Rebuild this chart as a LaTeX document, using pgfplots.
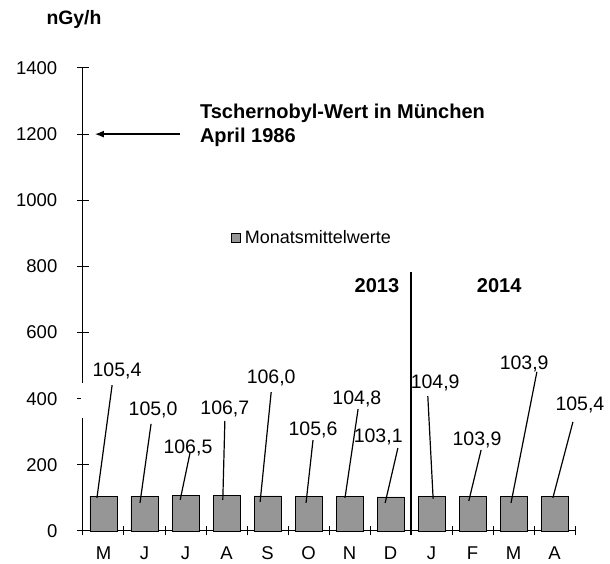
\documentclass[border=0pt]{standalone}
\usepackage{pgfplots}
\pgfplotsset{compat=1.18}
\usepackage{fontspec}
\setmainfont{Liberation Sans}
\usetikzlibrary{arrows.meta}
\definecolor{barcol}{RGB}{150,150,150}
\begin{document}
\fontsize{18}{22}\selectfont
\begin{tikzpicture}
\useasboundingbox (-83pt,-33pt) rectangle (527pt,531pt);
\begin{axis}[
  scale only axis,
  width=492pt, height=463pt,
  at={(0pt,0pt)}, anchor=south west,
  xmin=-0.5, xmax=11.5,
  ymin=0, ymax=1400,
  axis lines=left,
  axis line style={-, line width=1pt, black},
  clip=false,
  /pgf/number format/assume math mode=true,
  /pgf/number format/1000 sep={},
  tick label style={font=\fontsize{18.5}{22}\selectfont},
  ytick={0,200,...,1400},
  yticklabel style={anchor=east, inner sep=0pt, xshift=-20pt},
  ytick align=center,
  major tick length=11pt,
  minor tick length=9pt,
  xtick align=center,
  tick style={line width=1pt, black},
  xtick={0,...,11},
  xticklabels={M,J,J,A,S,O,N,D,J,F,M,A},
  major x tick style={draw=none},
  minor xtick={-0.5,0.5,...,11.5},
  xticklabel style={anchor=base, inner sep=0pt, text height=13pt, text depth=0pt, yshift=-23pt},
  legend style={at={(rel axis cs:0.301,0.633)}, anchor=west, draw=none, fill=none,
    inner sep=0pt, nodes={inner sep=2pt, inner xsep=4pt}},
  legend image code/.code={\draw[fill=barcol, draw=black, line width=0.6pt] (0pt,-4.5pt) rectangle (9pt,4.5pt);},
]
\addplot[ybar, bar width=27pt, fill=barcol, draw=black, line width=0.8pt]
  coordinates {(0,105.4) (1,105.0) (2,106.5) (3,106.7) (4,106.0) (5,105.6)
               (6,104.8) (7,103.1) (8,104.9) (9,103.9) (10,103.9) (11,105.4)};
\addlegendentry{Monatsmittelwerte}

% gap in y axis
\fill[white] ([xshift=-1.5pt]axis cs:-0.5,342) rectangle ([xshift=8pt]axis cs:-0.5,447);

% leader lines
\begin{scope}[line width=1.2pt]
\draw (axis cs:0.21,441) -- (axis cs:-0.16,100);
\draw (axis cs:1.16,324) -- (axis cs:0.89,85);
\draw (axis cs:2.11,236) -- (axis cs:1.87,94);
\draw (axis cs:2.96,333) -- (axis cs:2.91,94);
\draw (axis cs:4.09,420) -- (axis cs:3.82,88);
\draw (axis cs:5.11,275) -- (axis cs:4.94,85);
\draw (axis cs:6.21,369) -- (axis cs:5.89,100);
\draw (axis cs:7.18,251) -- (axis cs:6.87,85);
\draw (axis cs:7.91,408) -- (axis cs:8.04,97);
\draw (axis cs:9.21,245) -- (axis cs:8.91,91);
\draw (axis cs:10.57,481) -- (axis cs:9.94,85);
\draw (axis cs:11.45,330) -- (axis cs:10.96,100);
\end{scope}

% data labels
\begin{scope}[every node/.style={font=\fontsize{19.5}{23}\selectfont, text height=14pt, text depth=0pt, inner sep=0pt}]
\node at (axis cs:0.33,487) {105,4};
\node at (axis cs:1.21,369) {105,0};
\node at (axis cs:2.06,257) {106,5};
\node at (axis cs:2.96,372) {106,7};
\node at (axis cs:4.09,466) {106,0};
\node at (axis cs:5.11,311) {105,6};
\node at (axis cs:6.18,405) {104,8};
\node at (axis cs:6.70,290) {103,1};
\node at (axis cs:8.09,451) {104,9};
\node at (axis cs:9.11,281) {103,9};
\node at (axis cs:10.26,508) {103,9};
\node at (axis cs:11.62,387) {105,4};
\end{scope}

% year separator
\draw[line width=1.3pt] (axis cs:7.5,-12) -- (axis cs:7.5,783);
\begin{scope}[every node/.style={font=\fontsize{20}{24}\bfseries, text height=14.3pt, text depth=0pt, inner sep=0pt}]
\node at (axis cs:6.67,744) {2013};
\node at (axis cs:9.65,744) {2014};
\end{scope}

% Chernobyl arrow
\draw[line width=1.3pt, -{Latex[length=9pt, width=7pt]}] (axis cs:1.87,1200) -- (axis cs:-0.21,1200);
\node[font=\fontsize{20}{24}\bfseries, anchor=base west, inner sep=0pt] at (axis cs:2.35,1246) {Tschernobyl-Wert in München};
\node[font=\fontsize{20}{24}\bfseries, anchor=base west, inner sep=0pt] at (axis cs:2.35,1176) {April 1986};

% unit
\node[font=\fontsize{19.4}{23}\bfseries, anchor=base, inner sep=0pt] at (rel axis cs:-0.0183,1.0950) {nGy/h};
\end{axis}
\end{tikzpicture}
\end{document}
